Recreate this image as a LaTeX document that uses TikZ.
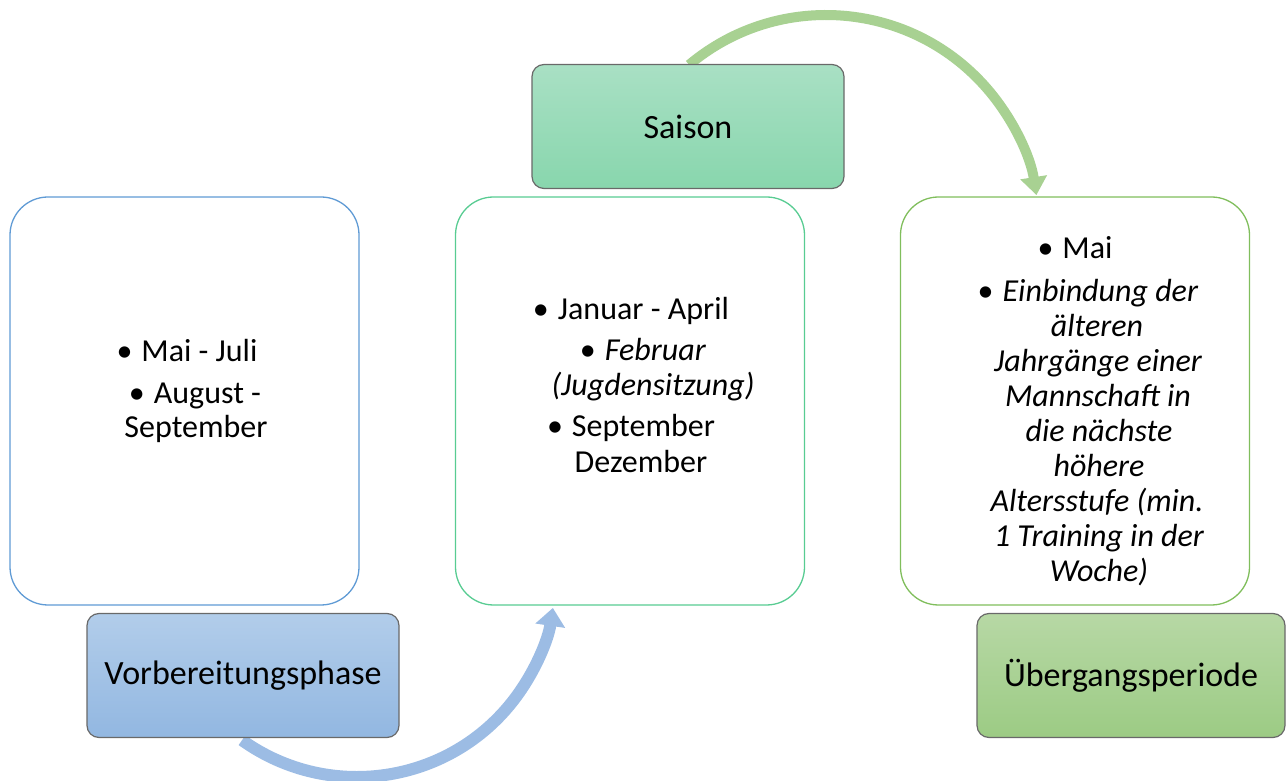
\documentclass[tikz,border=0pt]{standalone}
\usepackage{fontspec}
\setmainfont{Carlito}
\usetikzlibrary{arrows.meta}
\definecolor{cblue}{RGB}{96,155,213}
\definecolor{cteal}{RGB}{88,204,146}
\definecolor{cgreen}{RGB}{128,190,92}
\definecolor{boxgray}{RGB}{105,105,105}
\definecolor{arrblue}{RGB}{156,188,228}
\definecolor{arrgreen}{RGB}{168,209,146}
\definecolor{vtop}{RGB}{178,205,234}
\definecolor{vbot}{RGB}{146,183,225}
\definecolor{stop}{RGB}{169,224,196}
\definecolor{sbot}{RGB}{136,214,173}
\definecolor{utop}{RGB}{183,216,165}
\definecolor{ubot}{RGB}{156,203,132}
\begin{document}
\begin{tikzpicture}[x=1pt,y=1pt,
  card/.style={draw, line width=1.3pt, rounded corners=38pt, minimum width=349pt, minimum height=408pt, fill=white, inner sep=0pt},
  phase/.style={draw=boxgray, line width=1.2pt, rounded corners=12pt, minimum width=312pt, minimum height=124pt, font=\fontsize{34}{40}\selectfont, inner sep=0pt},
  txt/.style={anchor=base, inner sep=0pt, font=\fontsize{32}{38}\selectfont},
  itxt/.style={anchor=base, inner sep=0pt, font=\fontsize{32}{38}\selectfont\itshape},
  cyc/.style={line width=12pt, -{Triangle[width=29pt,length=18pt]}}]
\useasboundingbox (0,0) rectangle (1286,780);

% content cards
\node[card, draw=cblue]  (c1) at (184.5,379) {};
\node[card, draw=cteal]  (c2) at (630,379) {};
\node[card, draw=cgreen] (c3) at (1075,379) {};

% cycle arrows
\coordinate (bc) at (357,201);
\coordinate (gc) at (826,552);
\draw[cyc, arrblue] ([shift={(234.5:198)}]bc) arc[start angle=234.5, end angle=351.6, radius=198];
\draw[line width=10pt, arrgreen, -{Triangle[width=26pt,length=18pt]}] ([shift={(130:213)}]gc) arc[start angle=130, end angle=8.9, radius=213];

% phase labels
\node[phase, top color=vtop, bottom color=vbot] (p1) at (243,104.5) {Vorbereitungsphase};
\node[phase, top color=stop, bottom color=sbot] (p2) at (688,653.5) {Saison};
\node[phase, minimum width=308pt, top color=utop, bottom color=ubot] (p3) at (1131,104.5) {Übergangsperiode};

% left card text
\node[txt] (l1) at (187,418) {•\hspace{9pt}Mai - Juli};
\node[txt] (l2) at (195,376) {•\hspace{9pt}August -};
\node[txt] (l3) at (196,342) {September};

% middle card text
\node[txt]  (m1) at (631,460) {•\hspace{9pt}Januar - April};
\node[txt]  (m2) at (643,419) {•\hspace{9pt}\textit{Februar}};
\node[itxt] (m3) at (653,384) {(Jugdensitzung)};
\node[txt]  (m4) at (631,343) {•\hspace{9pt}September};
\node[txt]  (m5) at (641,307) {Dezember};

% right card text
\node[txt]  (r1) at (1075,521) {•\hspace{9pt}Mai};
\node[txt]  (r2) at (1088,478) {•\hspace{9pt}\textit{Einbindung der}};
\node[itxt] (r3) at (1097,443) {älteren};
\node[itxt] (r4) at (1098,408) {Jahrgänge einer};
\node[itxt] (r5) at (1098,373) {Mannschaft in};
\node[itxt] (r6) at (1099,338) {die nächste};
\node[itxt] (r7) at (1099,303) {höhere};
\node[itxt] (r8) at (1097,268) {Altersstufe (min.};
\node[itxt] (r9) at (1099,233) {1 Training in der};
\node[itxt] (r10) at (1099,198) {Woche)};
\end{tikzpicture}
\end{document}
